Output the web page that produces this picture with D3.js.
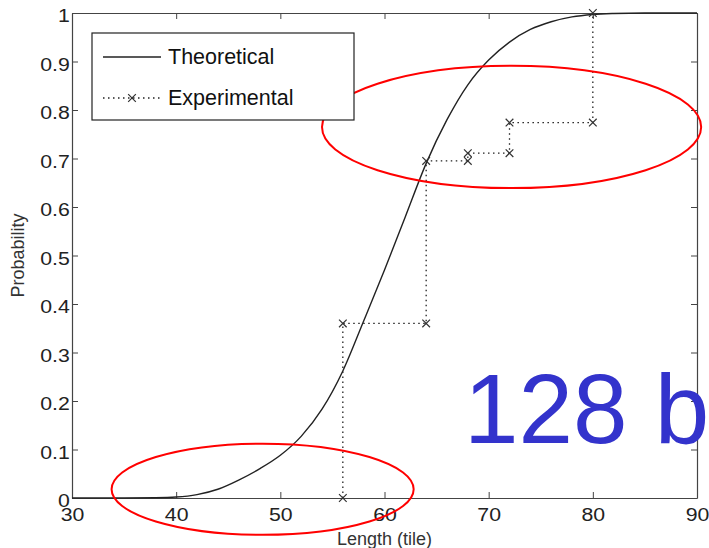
<!DOCTYPE html>
<html>
<head>
<meta charset="utf-8">
<script src="https://cdn.jsdelivr.net/npm/d3@7"></script>
<style>
  body { margin: 0; background: #fff; }
  svg { display: block; font-family: "Liberation Sans", Arial, sans-serif; }
</style>
</head>
<body>
<div id="viz"></div>
<script>
// theoretical curve
const theoX = [30, 35, 38, 40, 42, 44, 46, 48, 50, 52, 54, 56, 58, 60, 62, 64, 66, 68, 70, 72, 74, 76, 78, 80, 82, 85, 90];
const theoP = [0, 0, 0.0005, 0.002, 0.007, 0.018, 0.037, 0.06, 0.088, 0.127, 0.183, 0.262, 0.365, 0.47, 0.58, 0.69, 0.78, 0.852, 0.903, 0.94, 0.966, 0.982, 0.992, 0.997, 0.999, 1, 1];

// experimental step points
const expX = [56, 56, 64, 64, 68, 68, 72, 72, 80, 80];
const expP = [0, 0.36, 0.36, 0.695, 0.695, 0.711, 0.711, 0.774, 0.774, 1];

const xTicks = [30, 40, 50, 60, 70, 80, 90];
const yTicks = [0, 0.1, 0.2, 0.3, 0.4, 0.5, 0.6, 0.7, 0.8, 0.9, 1];

// red ellipses (data units: cx, cy, rx, ry)
const ellipses = [
  { cx: 72.2, cy: 0.765, rx: 18.2, ry: 0.126 },
  { cx: 48.3, cy: 0.018, rx: 14.5, ry: 0.094 }
];

const WIDTH = 709;
const HEIGHT = 548;
const MARGIN = { top: 13, right: 12, bottom: 50, left: 72 };
const innerW = WIDTH - MARGIN.left - MARGIN.right;
const innerH = HEIGHT - MARGIN.top - MARGIN.bottom;
const AXIS_COLOR = '#444';

const svg = d3.select('#viz').append('svg')
  .attr('width', WIDTH)
  .attr('height', HEIGHT);

const g = svg.append('g')
  .attr('transform', `translate(${MARGIN.left}, ${MARGIN.top})`);

const x = d3.scaleLinear().domain([30, 90]).range([0, innerW]);
const y = d3.scaleLinear().domain([0, 1]).range([innerH, 0]);

// axes (MATLAB style box, inward ticks)
const styleAxis = sel => {
  sel.select('.domain').attr('stroke', AXIS_COLOR).attr('stroke-width', 1.2);
  sel.selectAll('.tick line').attr('stroke', AXIS_COLOR);
  sel.selectAll('.tick text')
    .attr('fill', '#222')
    .attr('font-size', 19)
    .attr('transform', 'scale(1.12, 1)')
    .attr('font-family', '"Liberation Sans", Arial, sans-serif');
};

g.append('g')
  .attr('transform', `translate(0, ${innerH})`)
  .call(d3.axisBottom(x).tickValues(xTicks).tickSize(-6).tickSizeOuter(0).tickPadding(10))
  .call(styleAxis);
g.append('g')
  .call(d3.axisTop(x).tickValues(xTicks).tickSize(-6).tickSizeOuter(0).tickFormat(''))
  .call(styleAxis);
g.append('g')
  .call(d3.axisLeft(y).tickValues(yTicks).tickSize(-6).tickSizeOuter(0).tickPadding(2)
    .tickFormat(d => (d === 0 || d === 1) ? d3.format('d')(d) : d3.format('.1f')(d)))
  .call(styleAxis)
  .call(sel => sel.selectAll('.tick text').attr('dy', '0.45em'));
g.append('g')
  .attr('transform', `translate(${innerW}, 0)`)
  .call(d3.axisRight(y).tickValues(yTicks).tickSize(-6).tickSizeOuter(0).tickFormat(''))
  .call(styleAxis);

// axis titles
g.append('text')
  .attr('x', x(60))
  .attr('y', innerH + 47)
  .attr('text-anchor', 'middle')
  .attr('font-size', 18)
  .attr('fill', '#333')
  .text('Length (tile)');
g.append('text')
  .attr('transform', `translate(${-48}, ${y(0.5)}) rotate(-90)`)
  .attr('text-anchor', 'middle')
  .attr('font-size', 18)
  .attr('fill', '#333')
  .text('Probability');

// theoretical curve
const theo = theoX.map((v, i) => [v, theoP[i]]);
g.append('path')
  .datum(theo)
  .attr('fill', 'none')
  .attr('stroke', '#222')
  .attr('stroke-width', 1.4)
  .attr('d', d3.line().x(d => x(d[0])).y(d => y(d[1])).curve(d3.curveMonotoneX));

// experimental steps
const exp = expX.map((v, i) => [v, expP[i]]);
g.append('path')
  .datum(exp)
  .attr('fill', 'none')
  .attr('stroke', '#222')
  .attr('stroke-width', 1.3)
  .attr('stroke-dasharray', '1.5 3.5')
  .attr('d', d3.line().x(d => x(d[0])).y(d => y(d[1])));

const cross = d3.symbol().type(d3.symbolX).size(40);
g.selectAll('.mark')
  .data(exp)
  .join('path')
  .attr('class', 'mark')
  .attr('transform', d => `translate(${x(d[0])}, ${y(d[1])})`)
  .attr('d', cross)
  .attr('fill', 'none')
  .attr('stroke', '#333')
  .attr('stroke-width', 1.2);

// legend
const legend = svg.append('g');
legend.append('rect')
  .attr('x', 92).attr('y', 33)
  .attr('width', 262).attr('height', 87)
  .attr('fill', '#fff')
  .attr('stroke', '#222')
  .attr('stroke-width', 1.2);
legend.append('line')
  .attr('x1', 103).attr('x2', 161).attr('y1', 57).attr('y2', 57)
  .attr('stroke', '#222').attr('stroke-width', 1.4);
legend.append('line')
  .attr('x1', 103).attr('x2', 161).attr('y1', 98).attr('y2', 98)
  .attr('stroke', '#222').attr('stroke-width', 1.3)
  .attr('stroke-dasharray', '1.5 3.5');
legend.append('path')
  .attr('transform', 'translate(132, 98)')
  .attr('d', cross)
  .attr('fill', 'none')
  .attr('stroke', '#333')
  .attr('stroke-width', 1.2);
legend.append('text')
  .attr('x', 168).attr('y', 64)
  .attr('font-size', 21.5)
  .attr('fill', '#111')
  .text('Theoretical');
legend.append('text')
  .attr('x', 168).attr('y', 105)
  .attr('font-size', 21.5)
  .attr('fill', '#111')
  .text('Experimental');

// red annotation ellipses
g.selectAll('.ring')
  .data(ellipses)
  .join('ellipse')
  .attr('class', 'ring')
  .attr('cx', d => x(d.cx))
  .attr('cy', d => y(d.cy))
  .attr('rx', d => x(30 + d.rx) - x(30))
  .attr('ry', d => y(0) - y(d.ry))
  .attr('fill', 'none')
  .attr('stroke', '#f00')
  .attr('stroke-width', 2);

// big label
svg.append('text')
  .attr('x', 464)
  .attr('y', 443)
  .attr('font-size', 98)
  .attr('fill', '#3333cc')
  .text('128 b');
</script>
</body>
</html>
